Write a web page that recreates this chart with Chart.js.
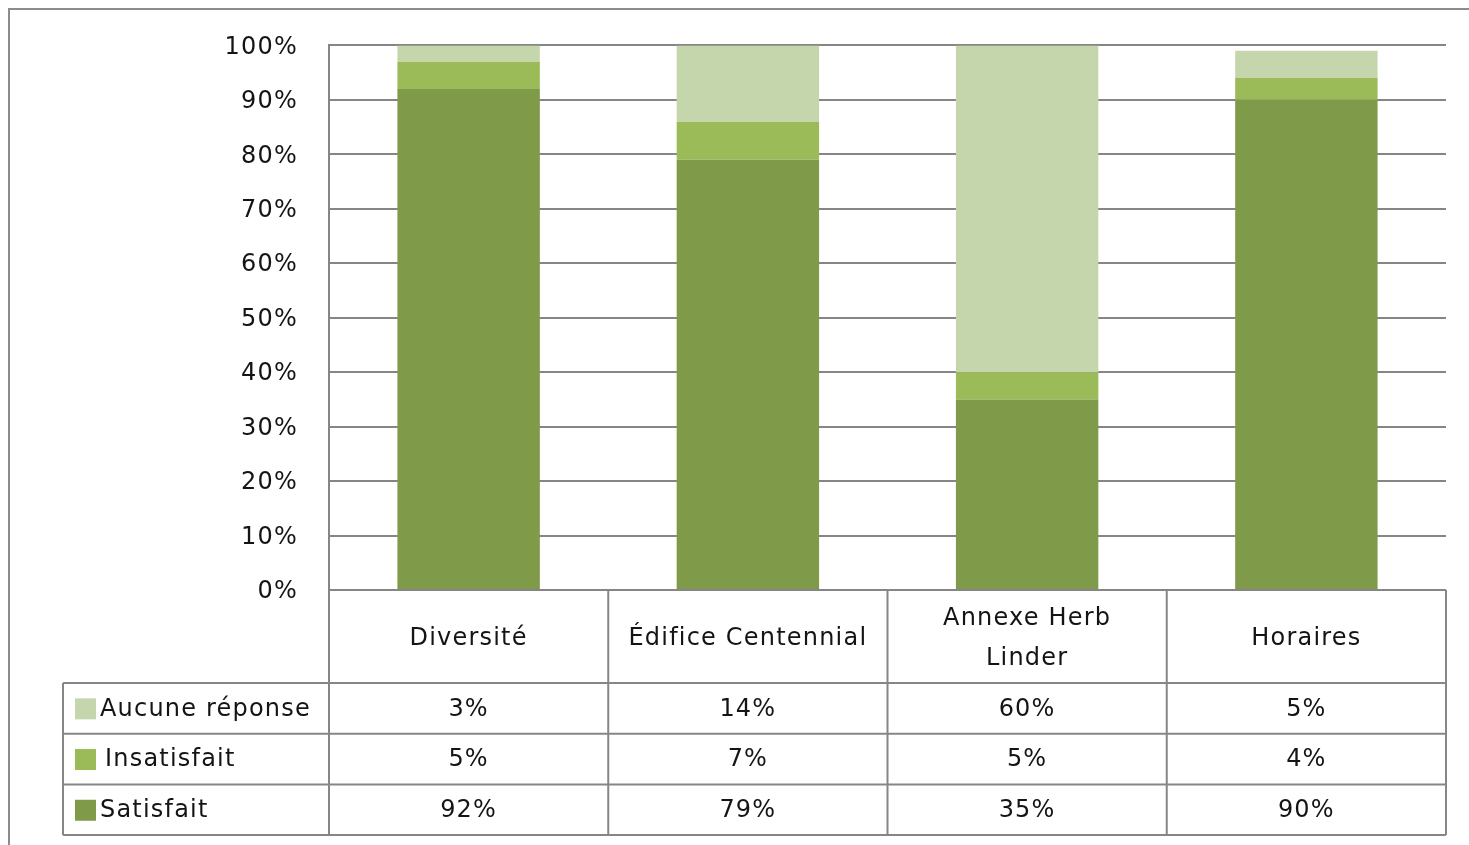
<!DOCTYPE html>
<html lang="fr">
<head>
<meta charset="utf-8">
<title>Satisfaction</title>
<script src="https://cdn.jsdelivr.net/npm/chart.js@4.4.1/dist/chart.umd.min.js"></script>
<style>
    html, body { margin: 0; padding: 0; background: #fff; overflow: hidden; }
    #wrap { position: relative; width: 1469px; height: 845px; }
    #frame {
        position: absolute; left: 8px; top: 8px; width: 1500px; height: 900px;
        border: 2px solid #8c8c8c; box-sizing: border-box;
    }
    #chart { position: absolute; left: 0; top: 0; }
</style>
</head>
<body>
<div id="wrap">
    <div id="frame"></div>
    <canvas id="chart" width="1469" height="845"></canvas>
</div>
<script>
// Données
const categories = ['Diversité', 'Édifice Centennial', ['Annexe Herb', 'Linder'], 'Horaires'];
const satisfait = [92, 79, 35, 90];
const insatisfait = [5, 7, 5, 4];
const aucuneReponse = [3, 14, 60, 5];
const yTicks = [0, 10, 20, 30, 40, 50, 60, 70, 80, 90, 100];

const colors = {
    satisfait: '#7f9a48',
    insatisfait: '#9bbb59',
    aucune: '#c6d6ac',
    grid: '#868686',
    text: '#141414'
};
const fontFamily = '"DejaVu Sans", Verdana, sans-serif';
const spacing = '1.2px';

// Tableau de données sous le graphique (style Excel)
const dataTablePlugin = {
    id: 'dataTable',
    beforeDraw(chart) {
        chart.ctx.letterSpacing = spacing;
    },
    afterDraw(chart) {
        const ctx = chart.ctx;
        const area = chart.chartArea;
        const n = categories.length;
        const colW = (area.right - area.left) / n;
        const headerBottom = 683;
        const rowH = 50.7;
        const tableLeft = 63;
        const rows = [2, 1, 0]; // ordre des lignes : Aucune réponse, Insatisfait, Satisfait
        const tableBottom = headerBottom + rowH * rows.length;

        ctx.save();
        ctx.letterSpacing = spacing;
        ctx.strokeStyle = colors.grid;
        ctx.lineWidth = 2;

        // lignes horizontales
        ctx.beginPath();
        ctx.moveTo(area.left, area.bottom);
        ctx.lineTo(area.right, area.bottom);
        for (let r = 0; r <= rows.length; r++) {
            const y = headerBottom + r * rowH;
            ctx.moveTo(tableLeft, y);
            ctx.lineTo(area.right, y);
        }
        // lignes verticales
        for (let i = 0; i <= n; i++) {
            const x = area.left + i * colW;
            ctx.moveTo(x, area.bottom);
            ctx.lineTo(x, tableBottom);
        }
        ctx.moveTo(tableLeft, headerBottom);
        ctx.lineTo(tableLeft, tableBottom);
        ctx.stroke();

        ctx.fillStyle = colors.text;
        ctx.font = '24px ' + fontFamily;
        ctx.textAlign = 'center';
        ctx.textBaseline = 'middle';

        // en-têtes des catégories
        const xScale = chart.scales.x;
        categories.forEach((cat, i) => {
            const x = xScale.getPixelForValue(i);
            const lines = Array.isArray(cat) ? cat : [cat];
            const mid = (area.bottom + headerBottom) / 2 + 2;
            lines.forEach((line, k) => {
                const y = mid + (k - (lines.length - 1) / 2) * 40;
                ctx.fillText(line, x, y);
            });
        });

        // lignes de valeurs avec légende
        rows.forEach((dsIndex, r) => {
            const ds = chart.data.datasets[dsIndex];
            const yMid = headerBottom + r * rowH + rowH / 2 + 1;
            ctx.fillStyle = ds.backgroundColor;
            ctx.fillRect(75, yMid - 11, 21, 21);
            ctx.fillStyle = colors.text;
            ctx.textAlign = 'left';
            ctx.fillText(ds.label, ds.label === 'Insatisfait' ? 105 : 100, yMid);
            ctx.textAlign = 'center';
            ds.data.forEach((v, i) => {
                ctx.fillText(v + '%', xScale.getPixelForValue(i), yMid);
            });
        });
        ctx.restore();
    }
};

new Chart(document.getElementById('chart'), {
    type: 'bar',
    data: {
        labels: categories,
        datasets: [
            { label: 'Satisfait', data: satisfait, backgroundColor: colors.satisfait },
            { label: 'Insatisfait', data: insatisfait, backgroundColor: colors.insatisfait },
            { label: 'Aucune réponse', data: aucuneReponse, backgroundColor: colors.aucune }
        ]
    },
    options: {
        responsive: false,
        animation: false,
        events: [],
        layout: { padding: { left: 0, top: 44, right: 23, bottom: 255 } },
        datasets: {
            bar: { categoryPercentage: 1, barPercentage: 0.51, borderWidth: 0 }
        },
        plugins: {
            legend: { display: false },
            tooltip: { enabled: false }
        },
        scales: {
            x: {
                stacked: true,
                display: false
            },
            y: {
                stacked: true,
                min: 0,
                max: 100,
                afterBuildTicks(scale) {
                    scale.ticks = yTicks.map(v => ({ value: v }));
                },
                afterFit(scale) {
                    scale.width = 329;
                },
                grid: { color: colors.grid, lineWidth: 2, drawTicks: false },
                border: { display: true, color: colors.grid, width: 2 },
                ticks: {
                    padding: 31,
                    labelOffset: 2,
                    color: colors.text,
                    font: { family: fontFamily, size: 24 },
                    callback: v => v + '%'
                }
            }
        }
    },
    plugins: [dataTablePlugin]
});
</script>
</body>
</html>
